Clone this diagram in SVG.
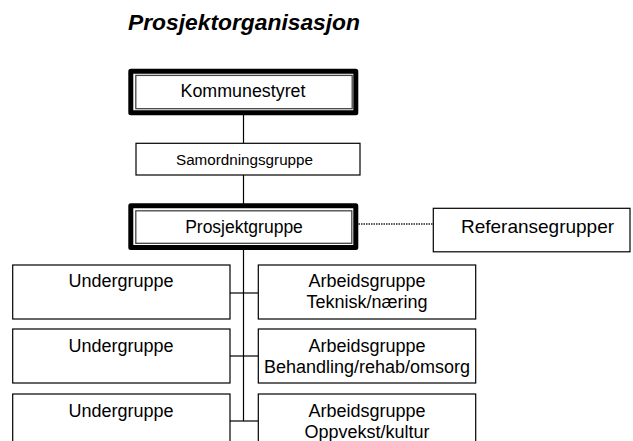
<svg xmlns="http://www.w3.org/2000/svg" width="633" height="441" viewBox="0 0 633 441">
<style>
text{font-family:"Liberation Sans",Arial,sans-serif;fill:#000;text-anchor:middle}
.title{font-size:22px;font-weight:bold;font-style:italic;text-anchor:start}
.box{fill:#fff;stroke:#000;stroke-width:1.2}
.thick{fill:#fff;stroke:#000;stroke-width:5;stroke-linejoin:round}
.inner{fill:none;stroke:#444;stroke-width:1.3}
.ln{stroke:#000;stroke-width:1.2;fill:none}
.dot{stroke:#222;stroke-width:1.6;stroke-dasharray:1.5 1;fill:none}
.t18{font-size:18px}
</style>
<rect width="633" height="441" fill="#fff"/>
<text class="title" x="128" y="30" textLength="232" lengthAdjust="spacingAndGlyphs">Prosjektorganisasjon</text>
<g id="connectors">
<line class="ln" x1="243.5" y1="115" x2="243.5" y2="143"/>
<line class="ln" x1="243.5" y1="175" x2="243.5" y2="204"/>
<line class="ln" x1="243.5" y1="250" x2="243.5" y2="421"/>
<line class="ln" x1="230" y1="293" x2="258" y2="293"/>
<line class="ln" x1="230" y1="356" x2="258" y2="356"/>
<line class="ln" x1="230" y1="421" x2="258" y2="421"/>
<line class="dot" x1="356" y1="224" x2="433" y2="224"/>
</g>
<g id="kommunestyret">
<rect class="thick" x="130.8" y="71.2" width="225" height="41.6"/>
<rect class="inner" x="135.8" y="75.4" width="216.4" height="33.3"/>
<text x="243" y="97" style="font-size:17.5px" textLength="125" lengthAdjust="spacingAndGlyphs">Kommunestyret</text>
</g>
<g id="samordningsgruppe">
<rect class="box" x="136" y="143.3" width="224" height="31.7"/>
<text x="244.5" y="165" style="font-size:14px" textLength="137" lengthAdjust="spacingAndGlyphs">Samordningsgruppe</text>
</g>
<g id="prosjektgruppe">
<rect class="thick" x="130.8" y="205.8" width="225" height="41.7"/>
<rect class="inner" x="135.8" y="210.8" width="216" height="32.5"/>
<text x="244" y="233" style="font-size:17.5px">Prosjektgruppe</text>
</g>
<g id="referansegrupper">
<rect class="box" x="433.3" y="208.3" width="196.7" height="43.5"/>
<text x="537.5" y="233" style="font-size:19px">Referansegrupper</text>
</g>
<g id="undergruppe1">
<rect class="box" x="12.7" y="265" width="217.3" height="54"/>
<text class="t18" x="121" y="287">Undergruppe</text>
</g>
<g id="undergruppe2">
<rect class="box" x="12.7" y="329" width="217.3" height="54"/>
<text class="t18" x="121" y="352">Undergruppe</text>
</g>
<g id="undergruppe3">
<rect class="box" x="12.7" y="394" width="217.3" height="54"/>
<text class="t18" x="121" y="417">Undergruppe</text>
</g>
<g id="arbeidsgruppe1">
<rect class="box" x="258.3" y="265" width="217.4" height="54"/>
<text class="t18" x="367" y="287">Arbeidsgruppe</text>
<text class="t18" x="367" y="308">Teknisk/næring</text>
</g>
<g id="arbeidsgruppe2">
<rect class="box" x="258.3" y="329" width="217.4" height="54"/>
<text class="t18" x="367" y="352">Arbeidsgruppe</text>
<text class="t18" x="367" y="373">Behandling/rehab/omsorg</text>
</g>
<g id="arbeidsgruppe3">
<rect class="box" x="258.3" y="394" width="217.4" height="54"/>
<text class="t18" x="367" y="417">Arbeidsgruppe</text>
<text class="t18" x="367" y="438">Oppvekst/kultur</text>
</g>
</svg>
